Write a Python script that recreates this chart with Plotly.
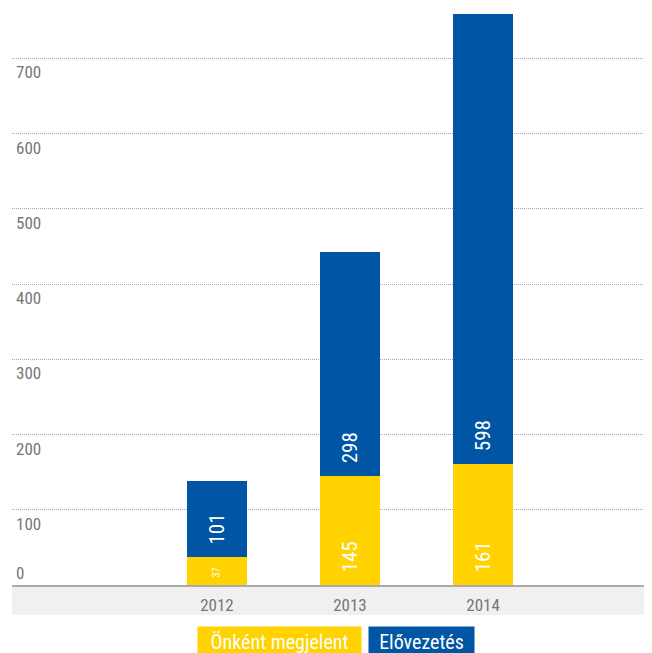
import plotly.graph_objects as go

years = ["2012", "2013", "2014"]
onkent = [37, 145, 161]
elovezetes = [101, 298, 598]
series_names = ["Önként megjelent", "Elővezetés"]
colors = ["#FFD200", "#0055A4"]
yticks = [0, 100, 200, 300, 400, 500, 600, 700]

FONT = "Liberation Sans Narrow, Roboto Condensed, Roboto, sans-serif"

# page has an 8px body margin, so the figure is drawn 8px smaller
W, H = 644, 645
ml, mr, mt, mb = 4, 0, 0, 68
plot_h = H - mt - mb
plot_w = W - ml - mr

fig = go.Figure()
label_sizes = [[10, 21, 21], [21, 21, 21]]
for name, vals, col, sizes in zip(series_names, [onkent, elovezetes], colors, label_sizes):
    fig.add_trace(go.Bar(
        x=years, y=vals, name=name, marker=dict(color=col, line=dict(width=0)),
        texttemplate="\u00a0\u00a0%{y}", textposition="inside", insidetextanchor="start",
        textangle=-90, textfont=dict(color="white", size=sizes, family=FONT),
        width=0.45, showlegend=False,
    ))

fig.update_layout(
    width=W, height=H, barmode="stack",
    margin=dict(l=ml, r=mr, t=mt, b=mb),
    plot_bgcolor="white", paper_bgcolor="white",
    font=dict(family=FONT, color="#777777", size=16),
    xaxis=dict(type="category", range=[-1.54, 3.27], showgrid=False,
               showline=True, linecolor="#aaaaaa", linewidth=2,
               ticks="", tickfont=dict(size=17, color="#777777"),
               ticklabelstandoff=4),
    yaxis=dict(range=[0, 767], tickvals=yticks, showgrid=True,
               gridcolor="#a8a8a8", griddash="1px,1px", gridwidth=1,
               zeroline=False, showticklabels=False),
    shapes=[dict(type="rect", xref="paper", yref="paper", x0=0, x1=1,
                 y0=-30 / plot_h, y1=0, fillcolor="#f0f0f0",
                 line=dict(width=0), layer="below")],
)

# y tick labels sit just below their gridlines (0 sits above the baseline)
for t in yticks:
    fig.add_annotation(x=0, y=t, xref="paper", yref="y", text=str(t),
                       showarrow=False, xanchor="left", xshift=2,
                       yanchor="bottom" if t == 0 else "top",
                       yshift=0 if t == 0 else -2,
                       font=dict(size=17, color="#777777"))

# legend as coloured boxes
legend_cx = [271.5, 413.5]
legend_w = [155, 97]
for name, col, cx, w in zip(series_names, colors, legend_cx, legend_w):
    fig.add_annotation(x=(cx - ml) / plot_w, y=-(618 - (H - mb)) / plot_h,
                       xref="paper", yref="paper", yanchor="top", text=name,
                       showarrow=False, bgcolor=col, borderpad=4, width=w, height=22,
                       font=dict(color="white", size=20, family=FONT))

fig.write_html("out.html")
